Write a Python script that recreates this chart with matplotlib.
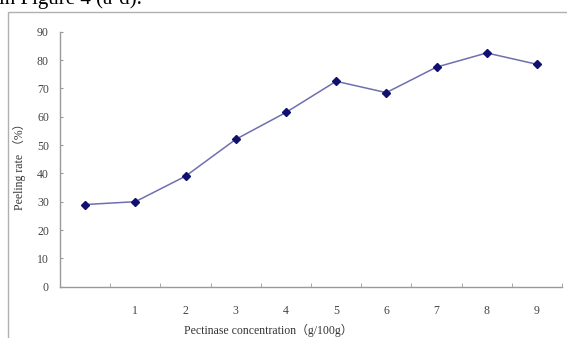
import matplotlib
matplotlib.use("Agg")
import matplotlib.pyplot as plt
from matplotlib.patches import Rectangle

categories = ["", "1", "2", "3", "4", "5", "6", "7", "8", "9"]
peeling_rate = [29, 30, 39, 52, 61.5, 72.5, 68.5, 77.5, 82.5, 78.5]
y_ticks = [0, 10, 20, 30, 40, 50, 60, 70, 80, 90]

plt.rcParams['font.family'] = ['Liberation Serif', 'DejaVu Serif']

W, H = 567, 338
fig = plt.figure(figsize=(W / 100, H / 100), dpi=100)
fig.patch.set_facecolor('white')

# outer chart border (extends past right/bottom edges)
fig.patches.append(Rectangle((8 / W, -0.1), 1.2, 1 - 12 / H + 0.1,
                             transform=fig.transFigure, fill=False,
                             edgecolor='#b0b0b0', linewidth=1.0))

# clipped caption text from page
fig.text(-0.002, 1 - 4 / H, "in Figure 4 (a-d).", fontsize=15, va='baseline',
         ha='left', color='black')

ax = fig.add_axes([60 / W, 1 - 286.7 / H, (562 - 60) / W, (286.7 - 31.7) / H])
x = list(range(len(categories)))
ax.plot(x, peeling_rate, color='#6f6fb0', linewidth=1.1, marker='D',
        markersize=3.8, markerfacecolor='#10106e', markeredgecolor='#10106e',
        zorder=3)

ax.set_xlim(-0.5, len(categories) - 0.5)
ax.set_ylim(0, 90)
ax.set_yticks(y_ticks)
ax.set_yticklabels([str(v) for v in y_ticks])
ax.set_xticks(x)
ax.set_xticklabels(categories)
ax.set_xticks([i + 0.5 for i in x], minor=True)

for s in ['top', 'right']:
    ax.spines[s].set_visible(False)
for s in ['left', 'bottom']:
    ax.spines[s].set_color('#9a9a9a')
    ax.spines[s].set_linewidth(1.0)

ax.tick_params(axis='x', which='major', length=0, pad=13, labelsize=8.5,
               labelcolor='#444444')
ax.tick_params(axis='x', which='minor', direction='in', length=3,
               color='#9a9a9a')
ax.tick_params(axis='y', direction='in', length=2.5, color='#9a9a9a',
               pad=8, labelsize=8.5, labelcolor='#444444')

ax.set_xlabel("Pectinase concentration（g/100g）", fontsize=8.5,
              color='#333333',
              fontfamily=['Liberation Serif', 'Noto Sans CJK SC'])
ax.set_ylabel("Peeling rate （%）", fontsize=8.5, color='#333333',
              fontfamily=['Liberation Serif', 'Noto Sans CJK SC'])
ax.xaxis.set_label_coords((268 - 60) / (562 - 60), -(324 - 286.7) / (286.7 - 31.7))
ax.yaxis.set_label_coords(-(60 - 26) / (562 - 60), (286.7 - 164) / (286.7 - 31.7))

fig.savefig("out.png", dpi=100, facecolor='white')
